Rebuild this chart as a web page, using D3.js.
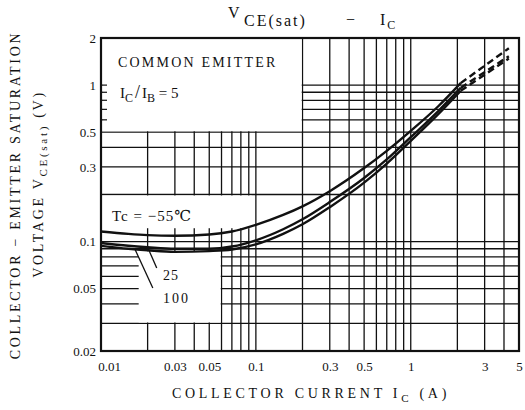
<!DOCTYPE html>
<html>
<head>
<meta charset="utf-8">
<script src="https://cdn.jsdelivr.net/npm/d3@7"></script>
<style>
  body { margin: 0; background: #fff; }
  text { font-family: "Liberation Serif", "DejaVu Serif", serif; fill: #111; }
</style>
</head>
<body>
<svg id="chart" width="525" height="410"></svg>
<script>
// --- data ---
const ic = [0.01, 0.015, 0.02, 0.03, 0.05, 0.07, 0.1, 0.15, 0.2, 0.3, 0.5, 0.7, 1, 1.5, 2.1];
const vM55 = [0.116, 0.112, 0.110, 0.109, 0.111, 0.116, 0.128, 0.148, 0.168, 0.21, 0.295, 0.38, 0.51, 0.73, 1.03];
const v25 = [0.098, 0.094, 0.092, 0.090, 0.090, 0.093, 0.102, 0.120, 0.139, 0.179, 0.255, 0.335, 0.465, 0.68, 0.96];
const v100 = [0.094, 0.090, 0.088, 0.086, 0.087, 0.089, 0.096, 0.112, 0.129, 0.166, 0.238, 0.315, 0.44, 0.65, 0.92];

// dashed extension
const icDash = [2.1, 4.3];
const vM55Dash = [1.03, 1.72];
const v25Dash = [0.96, 1.53];
const v100Dash = [0.92, 1.48];

const xGrid = [0.02, 0.03, 0.04, 0.05, 0.06, 0.07, 0.08, 0.09, 0.1, 0.2, 0.3, 0.4, 0.5, 0.6, 0.7, 0.8, 0.9, 1, 2, 3, 4];
const yGrid = [0.03, 0.04, 0.05, 0.06, 0.07, 0.08, 0.09, 0.1, 0.2, 0.3, 0.4, 0.5, 0.6, 0.7, 0.8, 0.9, 1];
const xTicks = [0.01, 0.03, 0.05, 0.1, 0.3, 0.5, 1, 3, 5];
const yTicks = [0.02, 0.05, 0.1, 0.3, 0.5, 1, 2];
const yMinor = [1, 0.9, 0.8, 0.7, 0.6];

// --- layout ---
const svg = d3.select("#chart");
const L = 101, R = 519, T = 38, B = 351;

const x = d3.scaleLog().domain([0.01, 5]).range([L, R]);
const y = d3.scaleLog().domain([0.02, 2]).range([B, T]);

const g = svg.append("g");

// grid
g.append("g").selectAll("line").data(xGrid).join("line")
  .attr("x1", d => x(d)).attr("x2", d => x(d))
  .attr("y1", T).attr("y2", B)
  .attr("stroke", "#111").attr("stroke-width", 1.3);

g.append("g").selectAll("line").data(yGrid).join("line")
  .attr("x1", L).attr("x2", R)
  .attr("y1", d => y(d)).attr("y2", d => y(d))
  .attr("stroke", "#111").attr("stroke-width", 1.3);

// white label areas cut out of the grid
const masks = [
  { x0: 0.01, x1: 0.2, y0: 2, y1: 0.5 },
  { x0: 0.01, x1: 0.095, y0: 0.2, y1: 0.12 },
  { x0: 0.0172, x1: 0.06, y0: 0.088, y1: 0.03 }
];
g.append("g").selectAll("rect").data(masks).join("rect")
  .attr("x", d => x(d.x0) + 1.2)
  .attr("y", d => y(d.y0) + 1)
  .attr("width", d => x(d.x1) - x(d.x0) - 2)
  .attr("height", d => y(d.y1) - y(d.y0) - 2)
  .attr("fill", "#fff");

// minor ticks on the left inside the top box
g.append("g").selectAll("line").data(yMinor).join("line")
  .attr("x1", L).attr("x2", L + 6)
  .attr("y1", d => y(d)).attr("y2", d => y(d))
  .attr("stroke", "#111").attr("stroke-width", 1.2);

// frame
g.append("rect")
  .attr("x", L).attr("y", T).attr("width", R - L).attr("height", B - T)
  .attr("fill", "none").attr("stroke", "#111").attr("stroke-width", 2.2);

// curves
const line = d3.line().x(d => x(d[0])).y(d => y(d[1])).curve(d3.curveMonotoneX);
const series = [vM55, v25, v100];
const dashes = [vM55Dash, v25Dash, v100Dash];

series.forEach(s => {
  g.append("path")
    .attr("d", line(ic.map((c, i) => [c, s[i]])))
    .attr("fill", "none").attr("stroke", "#111").attr("stroke-width", 2.4);
});
dashes.forEach(s => {
  g.append("path")
    .attr("d", line(icDash.map((c, i) => [c, s[i]])))
    .attr("fill", "none").attr("stroke", "#111").attr("stroke-width", 2.4)
    .attr("stroke-dasharray", "7,4");
});

// leader lines for 25 / 100
const leaders = [
  { from: [0.02, 0.092], to: [0.0229, 0.0678] },
  { from: [0.0166, 0.089], to: [0.0216, 0.0505] }
];
g.append("g").selectAll("line").data(leaders).join("line")
  .attr("x1", d => x(d.from[0])).attr("y1", d => y(d.from[1]))
  .attr("x2", d => x(d.to[0])).attr("y2", d => y(d.to[1]))
  .attr("stroke", "#111").attr("stroke-width", 1.3);

// axes
const xAxis = svg.append("g")
  .attr("transform", `translate(0,${B})`)
  .call(d3.axisBottom(x).tickValues(xTicks).tickSize(0).tickPadding(11)
    .tickFormat(d => String(d)));
xAxis.select(".domain").remove();
xAxis.selectAll("text").attr("font-size", 13).attr("font-family", "Liberation Serif")
  .attr("dx", d => d === 0.01 ? 8 : 0);

const yAxis = svg.append("g")
  .attr("transform", `translate(${L},0)`)
  .call(d3.axisLeft(y).tickValues(yTicks).tickSize(0).tickPadding(5)
    .tickFormat(d => String(d)));
yAxis.select(".domain").remove();
yAxis.selectAll("text").attr("font-size", 13).attr("font-family", "Liberation Serif");

// title
const title = svg.append("text").attr("font-size", 16).attr("letter-spacing", 2);
title.append("tspan").attr("x", 228).attr("y", 18).text("V");
title.append("tspan").attr("x", 244).attr("y", 26).text("CE(sat)");
title.append("tspan").attr("x", 346).attr("y", 25).text("−");
title.append("tspan").attr("x", 380).attr("y", 25).text("I");
title.append("tspan").attr("font-size", 12).attr("dy", 4).text("C");

// box texts
svg.append("text").attr("x", 118).attr("y", 67).attr("font-size", 14)
  .attr("letter-spacing", 2.2).text("COMMON EMITTER");
const ratio = svg.append("text").attr("x", 120).attr("y", 98).attr("font-size", 15);
ratio.append("tspan").text("I");
ratio.append("tspan").attr("font-size", 12).attr("dy", 4).text("C");
ratio.append("tspan").attr("dy", -4).attr("dx", 2).attr("font-size", 18).text("/");
ratio.append("tspan").attr("dx", 2).text("I");
ratio.append("tspan").attr("font-size", 12).attr("dy", 4).text("B");
ratio.append("tspan").attr("dy", -4).text(" = 5");

svg.append("text").attr("x", 112).attr("y", 221).attr("font-size", 15)
  .attr("letter-spacing", 1).text("Tc = −55℃");
svg.append("text").attr("x", 163).attr("y", 280).attr("font-size", 14)
  .attr("letter-spacing", 1).text("25");
svg.append("text").attr("x", 163).attr("y", 303).attr("font-size", 14)
  .attr("letter-spacing", 2).text("100");

// axis titles
const xt = svg.append("text").attr("x", 311).attr("y", 398).attr("text-anchor", "middle")
  .attr("font-size", 14).attr("letter-spacing", 3.7);
xt.append("tspan").text("COLLECTOR CURRENT  I");
xt.append("tspan").attr("font-size", 11).attr("dy", 4).text("C");
xt.append("tspan").attr("dy", -4).text(" (A)");

svg.append("text").attr("transform", "translate(20,195) rotate(-90)")
  .attr("text-anchor", "middle").attr("font-size", 14).attr("letter-spacing", 2.7)
  .text("COLLECTOR − EMITTER SATURATION");

const yt = svg.append("text").attr("transform", "translate(43,184) rotate(-90)")
  .attr("text-anchor", "middle").attr("font-size", 14).attr("letter-spacing", 2.7);
yt.append("tspan").text("VOLTAGE  V");
yt.append("tspan").attr("font-size", 11).attr("dy", 4).text("CE(sat)");
yt.append("tspan").attr("dy", -4).text(" (V)");
</script>
</body>
</html>
